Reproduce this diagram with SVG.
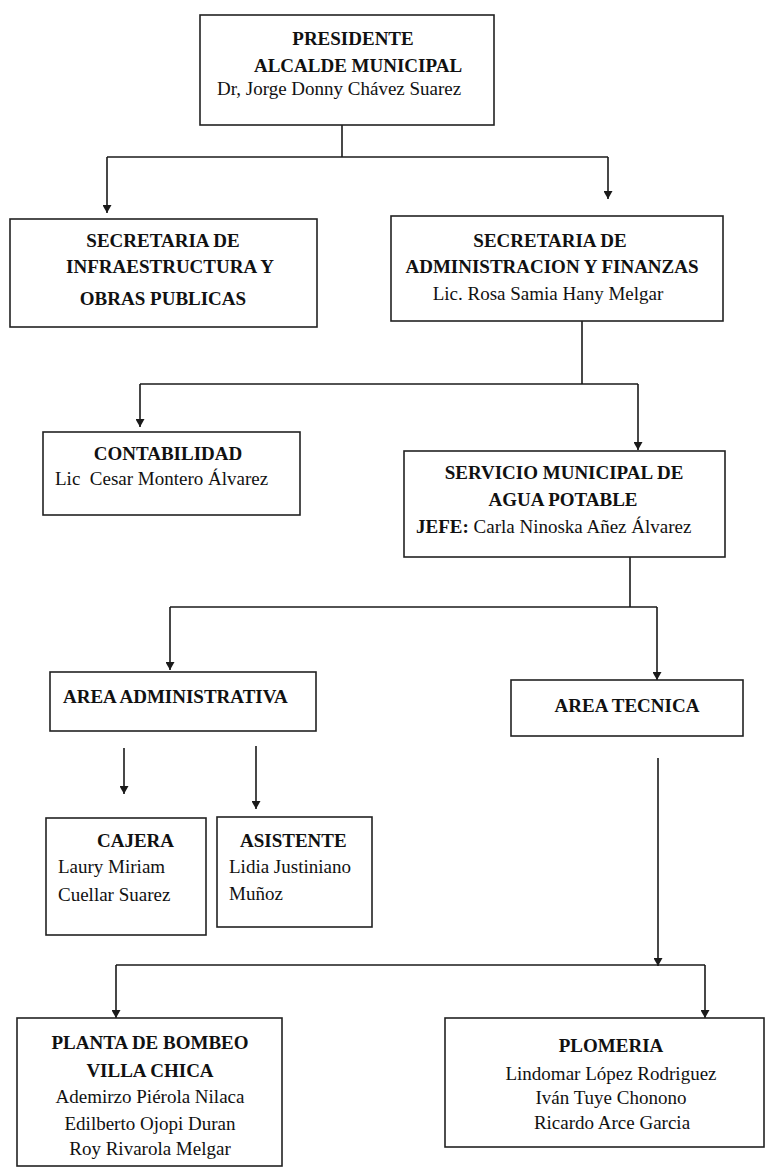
<svg xmlns="http://www.w3.org/2000/svg" width="769" height="1168" viewBox="0 0 769 1168">
<defs>
<style>
.box{fill:#fff;stroke:#222;stroke-width:1.6}
.ln{fill:none;stroke:#1a1a1a;stroke-width:1.6}
text{font-family:"Liberation Serif","Times New Roman",serif;font-size:19px;fill:#111}
.b{font-weight:bold}
.c{text-anchor:middle}
</style>
<marker id="ah2" markerUnits="userSpaceOnUse" markerWidth="8" markerHeight="9" refX="8" refY="4.5" orient="auto" viewBox="0 0 8 9">
<path d="M0,0 L8,4.5 L0,9 z" fill="#1a1a1a"/>
</marker>
</defs>
<rect width="769" height="1168" fill="#fff"/>

<g id="connectors">
<path class="ln" d="M342,100 V157"/>
<path class="ln" d="M107,157 H608"/>
<path class="ln" marker-end="url(#ah2)" d="M107,157 V213"/>
<path class="ln" marker-end="url(#ah2)" d="M608,157 V199"/>
<path class="ln" d="M582,321 V384"/>
<path class="ln" d="M140,384 H638"/>
<path class="ln" marker-end="url(#ah2)" d="M140,384 V427"/>
<path class="ln" marker-end="url(#ah2)" d="M638,384 V450"/>
<path class="ln" d="M630,543 V607"/>
<path class="ln" d="M170,607 H657"/>
<path class="ln" marker-end="url(#ah2)" d="M170,607 V670"/>
<path class="ln" marker-end="url(#ah2)" d="M657,607 V680"/>
<path class="ln" marker-end="url(#ah2)" d="M124,748 V794"/>
<path class="ln" marker-end="url(#ah2)" d="M256,746 V809"/>
<path class="ln" marker-end="url(#ah2)" d="M658,758 V966"/>
<path class="ln" d="M116,965 H705"/>
<path class="ln" marker-end="url(#ah2)" d="M116,965 V1018"/>
<path class="ln" marker-end="url(#ah2)" d="M705,965 V1018"/>
</g>

<g id="presidente">
<rect class="box" x="200" y="15" width="294" height="110"/>
<text class="b c" x="353" y="45">PRESIDENTE</text>
<text class="b c" x="358" y="72">ALCALDE MUNICIPAL</text>
<text x="217" y="95">Dr, Jorge Donny Chávez Suarez</text>
</g>

<g id="sec-infraestructura">
<rect class="box" x="10" y="219" width="307" height="108"/>
<text class="b c" x="163" y="247">SECRETARIA DE</text>
<text class="b c" x="170" y="273">INFRAESTRUCTURA Y</text>
<text class="b c" x="163" y="305">OBRAS PUBLICAS</text>
</g>

<g id="sec-administracion">
<rect class="box" x="391" y="216" width="332" height="105"/>
<text class="b c" x="550" y="247">SECRETARIA DE</text>
<text class="b c" x="552" y="273">ADMINISTRACION Y FINANZAS</text>
<text class="c" x="548" y="300">Lic. Rosa Samia Hany Melgar</text>
</g>

<g id="contabilidad">
<rect class="box" x="43" y="432" width="257" height="83"/>
<text class="b c" x="168" y="460">CONTABILIDAD</text>
<text x="55" y="485">Lic&#160; Cesar Montero Álvarez</text>
</g>

<g id="servicio-agua">
<rect class="box" x="404" y="451" width="321" height="106"/>
<text class="b c" x="564" y="479">SERVICIO MUNICIPAL DE</text>
<text class="b c" x="563" y="506">AGUA POTABLE</text>
<text x="416" y="533"><tspan class="b">JEFE:</tspan> Carla Ninoska Añez Álvarez</text>
</g>

<g id="area-administrativa">
<rect class="box" x="50" y="672" width="266" height="59"/>
<text class="b" x="63" y="703">AREA ADMINISTRATIVA</text>
</g>

<g id="area-tecnica">
<rect class="box" x="511" y="680" width="232" height="56"/>
<text class="b c" x="627" y="712">AREA TECNICA</text>
</g>

<g id="cajera">
<rect class="box" x="46" y="818" width="160" height="117"/>
<text class="b" x="97" y="847">CAJERA</text>
<text x="58" y="873">Laury Miriam</text>
<text x="58" y="901">Cuellar Suarez</text>
</g>

<g id="asistente">
<rect class="box" x="217" y="817" width="155" height="110"/>
<text class="b" x="240" y="847">ASISTENTE</text>
<text x="229" y="873">Lidia Justiniano</text>
<text x="229" y="900">Muñoz</text>
</g>

<g id="planta-bombeo">
<rect class="box" x="17" y="1018" width="265" height="148"/>
<text class="b c" x="150" y="1049">PLANTA DE BOMBEO</text>
<text class="b c" x="150" y="1077">VILLA CHICA</text>
<text class="c" x="150" y="1103">Ademirzo Piérola Nilaca</text>
<text class="c" x="150" y="1130">Edilberto Ojopi Duran</text>
<text class="c" x="150" y="1155">Roy Rivarola Melgar</text>
</g>

<g id="plomeria">
<rect class="box" x="445" y="1018" width="319" height="129"/>
<text class="b c" x="611" y="1052">PLOMERIA</text>
<text class="c" x="611" y="1080">Lindomar López Rodriguez</text>
<text class="c" x="611" y="1104">Iván Tuye Chonono</text>
<text class="c" x="612" y="1129">Ricardo Arce Garcia</text>
</g>
</svg>
